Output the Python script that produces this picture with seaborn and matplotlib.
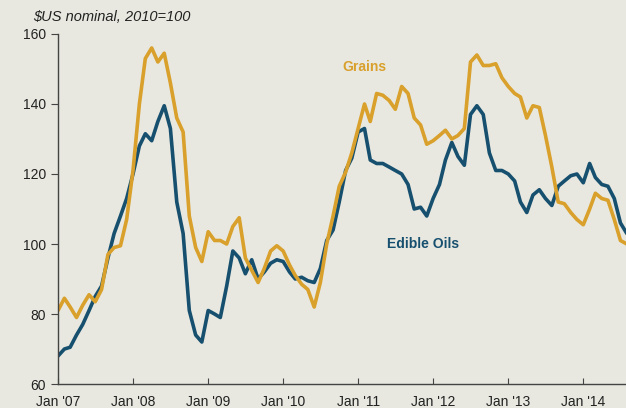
import matplotlib
matplotlib.use("Agg")
import matplotlib.pyplot as plt
import matplotlib.dates as mdates
import pandas as pd
import seaborn as sns

# monthly index values, Jan 2007 - Aug 2014 ($US nominal, 2010=100)
months = pd.date_range("2007-01-01", periods=92, freq="MS")

grains = [81, 84.5, 82, 79, 82.5, 85.5, 83.5, 87, 97, 99, 99.5, 107,
          121, 140, 153, 156, 152, 154.5, 146, 136, 132, 108, 99, 95,
          103.5, 101, 101, 100, 105, 107.5, 96, 92.5, 89, 93, 98, 99.5,
          98, 94, 91, 88.5, 87, 82, 89, 100, 108, 116.5, 120.5, 126,
          133, 140, 135, 143, 142.5, 141, 138.5, 145, 143, 136, 134, 128.5,
          129.5, 131, 132.5, 130, 131, 133, 152, 154, 151, 151, 151.5, 147.5,
          145, 143, 142, 136, 139.5, 139, 131, 122, 112, 111.5, 109, 107,
          105.5, 110, 114.5, 113, 112.5, 107, 101, 100]

edible_oils = [68, 70, 70.5, 74, 77, 81, 85, 88, 96, 103, 108, 113,
               120, 128, 131.5, 129.5, 135, 139.5, 133, 112, 103, 81, 74, 72,
               81, 80, 79, 88, 98, 96, 91.5, 95.5, 90, 92, 94.5, 95.5,
               95, 92, 90, 90.5, 89.5, 89, 93, 101, 104, 112, 121, 124.5,
               132, 133, 124, 123, 123, 122, 121, 120, 117, 110, 110.5, 108,
               113, 117, 124, 129, 125, 122.5, 137, 139.5, 137, 126, 121, 121,
               120, 118, 112, 109, 114, 115.5, 113, 111, 116.5, 118, 119.5, 120,
               117.5, 123, 119, 117, 116.5, 113, 106, 103]

series_names = ["Grains", "Edible Oils"]
colours = {"Grains": "#d9a02b", "Edible Oils": "#17506f"}

df = pd.concat([
    pd.DataFrame({"date": months, "value": grains, "series": "Grains"}),
    pd.DataFrame({"date": months, "value": edible_oils, "series": "Edible Oils"}),
])

bg = "#e8e8e0"
sns.set_style("ticks")
plt.rcParams["font.family"] = ["Liberation Sans", "DejaVu Sans"]

fig = plt.figure(figsize=(6.26, 4.08), dpi=100, facecolor=bg)
ax = fig.add_axes([0.0927, 0.0588, 0.9073, 0.8579])
ax.set_facecolor(bg)

sns.lineplot(data=df, x="date", y="value", hue="series", hue_order=series_names[::-1],
             palette=colours, linewidth=2.6, legend=False, ax=ax,
             solid_joinstyle="round", solid_capstyle="round")

ax.set_xlim(pd.Timestamp("2007-01-01"), pd.Timestamp("2014-07-28"))
ax.set_ylim(60, 160)
ax.set_yticks(range(60, 161, 20))
ax.xaxis.set_major_locator(mdates.YearLocator())
ax.xaxis.set_major_formatter(mdates.DateFormatter("%b '%y"))
ax.set_xlabel("")
ax.set_ylabel("")

for side in ["top", "right"]:
    ax.spines[side].set_visible(False)
for side in ["left", "bottom"]:
    ax.spines[side].set_color("#444444")
    ax.spines[side].set_linewidth(1.0)
ax.tick_params(axis="y", direction="out", length=5, color="#444444", labelsize=10, labelcolor="#222222")
ax.tick_params(axis="x", direction="in", length=4, color="#444444", labelsize=10, labelcolor="#222222", pad=8)

ax.text(pd.Timestamp("2011-02-01"), 150.5, "Grains", color=colours["Grains"],
        fontsize=10, fontweight="bold", ha="center", va="center")
ax.text(pd.Timestamp("2011-11-15"), 100, "Edible Oils", color=colours["Edible Oils"],
        fontsize=10, fontweight="bold", ha="center", va="center")

fig.text(0.053, 0.958, "\\$US nominal, 2010=100", fontsize=10.5, style="italic",
         color="#222222", ha="left", va="center")

fig.savefig("out.png", dpi=100, facecolor=bg)
